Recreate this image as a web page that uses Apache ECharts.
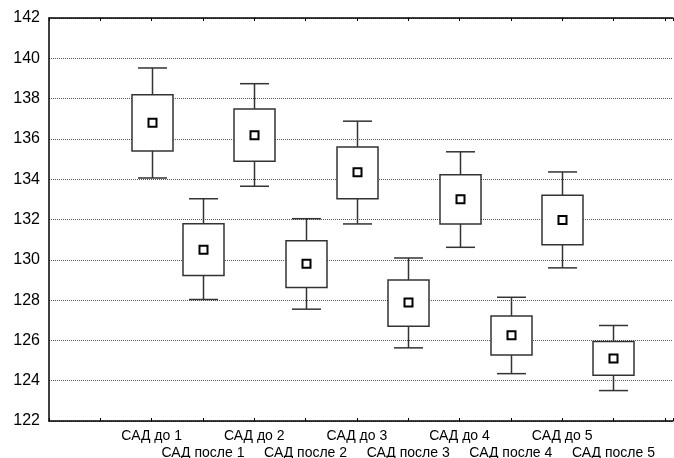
<!DOCTYPE html>
<html>
<head>
<meta charset="utf-8">
<script src="https://cdn.jsdelivr.net/npm/echarts@6/dist/echarts.min.js"></script>
<style>
html,body{margin:0;padding:0;background:#fff;}
#chart{width:674px;height:458px;}
</style>
</head>
<body>
<div id="chart"></div>
<script>
const categories = ['САД до 1','САД после 1','САД до 2','САД после 2','САД до 3','САД после 3','САД до 4','САД после 4','САД до 5','САД после 5'];
const whiskerLow  = [134.06, 128.03, 133.65, 127.55, 131.78, 125.63, 130.62, 124.35, 129.60, 123.51];
const boxLow      = [135.40, 129.22, 134.89, 128.63, 133.03, 126.70, 131.78, 125.28, 130.75, 124.27];
const means       = [136.80, 130.50, 136.18, 129.81, 134.35, 127.88, 133.00, 126.25, 131.97, 125.10];
const boxHigh     = [138.19, 131.79, 137.49, 130.95, 135.60, 129.00, 134.22, 127.21, 133.20, 125.95];
const whiskerHigh = [139.52, 133.03, 138.74, 132.04, 136.88, 130.09, 135.36, 128.14, 134.36, 126.74];
const yMin = 122, yMax = 142, yStep = 2;

const OFFSET = 2; // first category sits on the second x tick
const data = categories.map((c, i) => [i + OFFSET, whiskerLow[i], boxLow[i], means[i], boxHigh[i], whiskerHigh[i]]);

const chart = echarts.init(document.getElementById('chart'), null, {renderer: 'canvas'});
const FONT = 'Liberation Sans, Arial, sans-serif';
const LINE = '#333';

function renderItem(params, api) {
  const x = api.value(0);
  const wl = api.coord([x, api.value(1)]);
  const bl = api.coord([x, api.value(2)]);
  const m  = api.coord([x, api.value(3)]);
  const bh = api.coord([x, api.value(4)]);
  const wh = api.coord([x, api.value(5)]);
  const unit = api.size([1, 0])[0];
  const bw = Math.round(unit * 0.8);
  const cw = Math.round(unit * 0.57);
  const ms = 8;
  const cx = Math.round(wl[0]) + 0.5;
  const st = {stroke: LINE, lineWidth: 1.5};
  return {
    type: 'group',
    children: [
      {type: 'line', shape: {x1: cx, y1: wh[1], x2: cx, y2: bh[1]}, style: st},
      {type: 'line', shape: {x1: cx, y1: bl[1], x2: cx, y2: wl[1]}, style: st},
      {type: 'line', shape: {x1: cx - cw / 2, y1: wh[1], x2: cx + cw / 2, y2: wh[1]}, style: st},
      {type: 'line', shape: {x1: cx - cw / 2, y1: wl[1], x2: cx + cw / 2, y2: wl[1]}, style: st},
      {type: 'rect', shape: {x: cx - bw / 2, y: bh[1], width: bw, height: bl[1] - bh[1]}, style: {fill: '#fff', stroke: LINE, lineWidth: 1.5}},
      {type: 'rect', shape: {x: cx - ms / 2, y: m[1] - ms / 2, width: ms, height: ms}, style: {fill: '#fff', stroke: '#000', lineWidth: 2}}
    ]
  };
}

const xCommon = {
  type: 'value', min: 0, max: 12.16, interval: 1,
  axisLine: {show: true, onZero: false, lineStyle: {color: '#000', width: 1.5}},
  axisTick: {show: true, inside: true, length: 3, lineStyle: {color: '#000'}},
  splitLine: {show: false}
};

chart.setOption({
  animation: false,
  backgroundColor: '#fff',
  grid: {left: 49, right: 1, top: 18, bottom: 37, containLabel: false, outerBoundsMode: 'none'},
  xAxis: [
    Object.assign({}, xCommon, {
      position: 'bottom',
      axisLabel: {
        show: true, color: '#000', fontFamily: FONT, fontSize: 14, lineHeight: 16.5, margin: 7,
        interval: 0, showMinLabel: true, showMaxLabel: true, hideOverlap: false,
        formatter: function (v) {
          const i = v - OFFSET;
          if (!Number.isInteger(i) || i < 0 || i >= categories.length) return '';
          return (i % 2 === 1 ? '\n' : '') + categories[i];
        }
      }
    }),
    Object.assign({}, xCommon, {position: 'top', axisLabel: {show: false}})
  ],
  yAxis: {
    type: 'value', min: yMin, max: yMax, interval: yStep,
    axisLine: {show: true, lineStyle: {color: '#000', width: 1.5}},
    axisTick: {show: false},
    axisLabel: {color: '#000', fontFamily: FONT, fontSize: 16, margin: 9},
    splitLine: {show: true, lineStyle: {color: '#555', width: 1, type: [1, 1]}}
  },
  series: [{
    type: 'custom',
    renderItem: renderItem,
    encode: {x: 0, y: [1, 2, 3, 4, 5]},
    data: data,
    clip: false
  }]
});
</script>
</body>
</html>
